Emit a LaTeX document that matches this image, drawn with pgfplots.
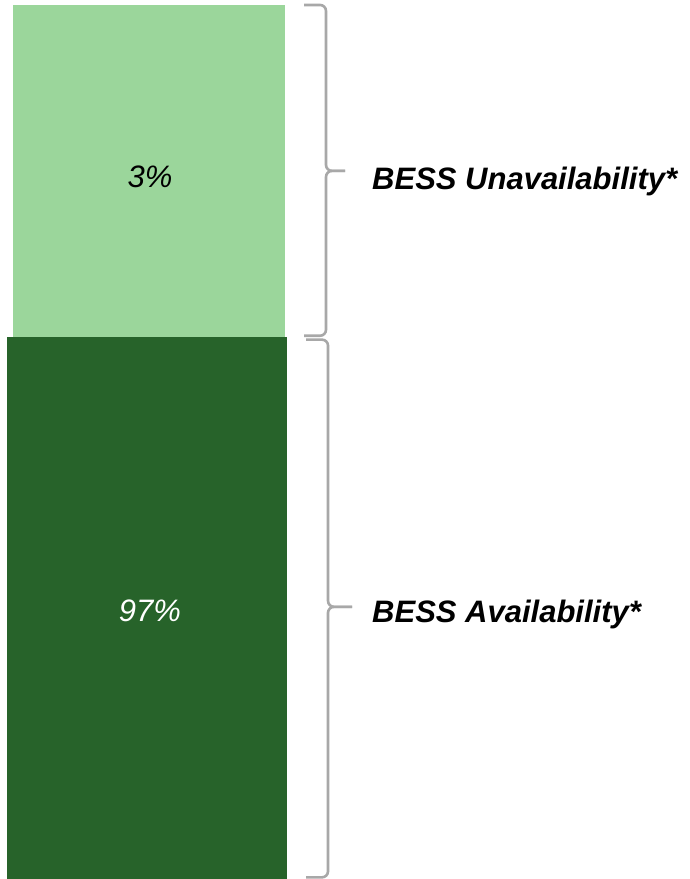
\documentclass[border=0pt]{standalone}
\usepackage{pgfplots}
\pgfplotsset{compat=1.18}
\usepackage{fontspec}
\setmainfont{Liberation Sans}

\definecolor{availGreen}{HTML}{27632A}
\definecolor{unavailGreen}{HTML}{9BD69B}
\definecolor{braceGray}{HTML}{A8A8A8}

\tikzset{bracepath/.style={draw=braceGray, line width=2.6pt, rounded corners=6pt}}

\begin{document}
\begin{tikzpicture}
\begin{axis}[
  scale only axis,
  width=689pt, height=879pt,
  xmin=0, xmax=689,
  ymin=92.10, ymax=100.045,
  hide axis,
  ybar stacked,
]
% availability share (bottom) and unavailability share (top)
\addplot[fill=availGreen, draw=none, bar width=280, bar shift=-1]
  coordinates {(148,97)};
\addplot[fill=unavailGreen, draw=none, bar width=272, bar shift=1]
  coordinates {(148,3)};

% anchor points for the value labels, placed after the bars are drawn
\coordinate (lblTop) at (axis cs:150,98.45);
\coordinate (lblBottom) at (axis cs:150,94.52);

% braces
\draw[bracepath] (axis cs:304,100.0) -- (axis cs:326,100.0) -- (axis cs:326,98.5) -- (axis cs:345,98.5);
\draw[bracepath] (axis cs:345,98.5) -- (axis cs:326,98.5) -- (axis cs:326,97.01) -- (axis cs:304,97.01);
\draw[bracepath] (axis cs:306,96.975) -- (axis cs:328,96.975) -- (axis cs:328,94.56) -- (axis cs:352,94.56);
\draw[bracepath] (axis cs:352,94.56) -- (axis cs:328,94.56) -- (axis cs:328,92.115) -- (axis cs:306,92.115);

% brace labels
\node[font=\fontsize{31}{36}\selectfont\bfseries\itshape, anchor=base west, inner sep=0pt]
  at (axis cs:372,98.33) {BESS Unavailability*};
\node[font=\fontsize{31}{36}\selectfont\bfseries\itshape, anchor=base west, inner sep=0pt]
  at (axis cs:372,94.42) {BESS Availability*};
\end{axis}
\node[font=\fontsize{31}{36}\selectfont\itshape, text=black] at (lblTop) {3\%};
\node[font=\fontsize{31}{36}\selectfont\itshape, text=white] at (lblBottom) {97\%};
\pgfresetboundingbox
\useasboundingbox (current axis.south west) rectangle (current axis.north east);
\end{tikzpicture}
\end{document}
